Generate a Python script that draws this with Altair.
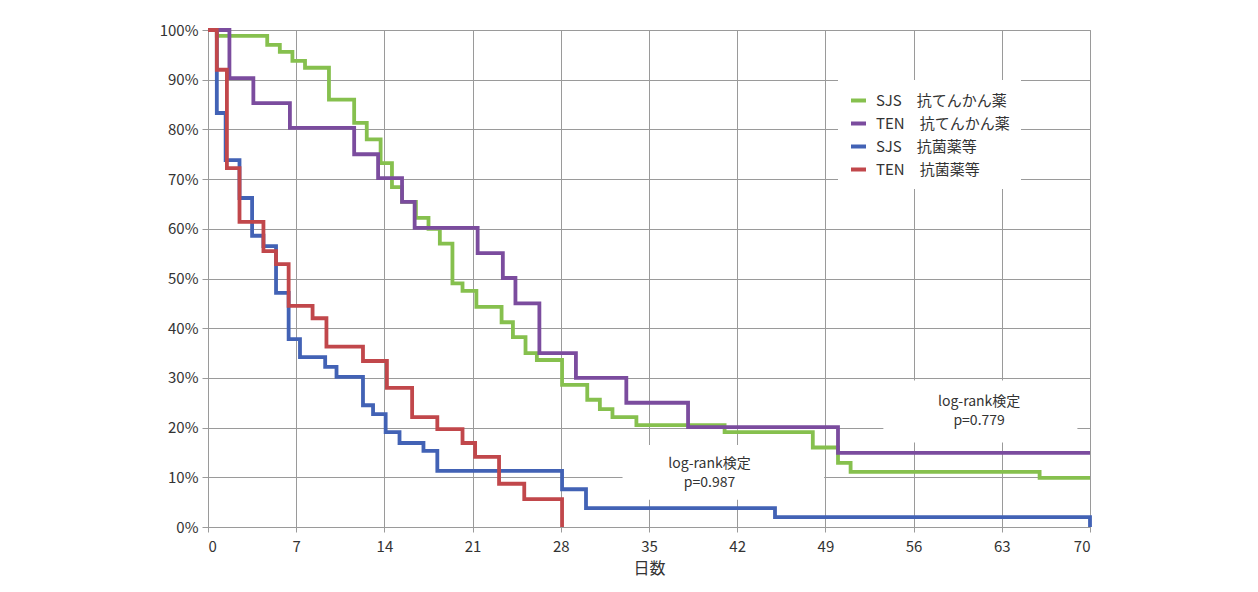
import altair as alt
import pandas as pd

# ---- data ----
series_names = ["SJS\u3000抗てんかん薬", "TEN\u3000抗てんかん薬", "SJS\u3000抗菌薬等", "TEN\u3000抗菌薬等"]
series_colors = ["#86c04e", "#7b4c9e", "#4262b5", "#c1474b"]

green_days = [0, 0.7, 4.7, 5.7, 6.7, 7.7, 9.6, 11.6, 12.6, 13.7, 14.6, 15.4, 16.5, 17.5, 18.4, 19.4,
              20.2, 21.3, 23.3, 24.2, 25.2, 26.1, 28.1, 30.1, 31.1, 32.1, 34.0, 41.0, 48.0, 50.0, 51.0,
              66.0, 70]
green_vals = [100, 98.8, 97, 95.6, 93.8, 92.4, 86, 81.3, 78, 73.2, 68.4, 65.4, 62.2, 60, 57, 49,
              47.5, 44.3, 41.2, 38.2, 35, 33.6, 28.6, 25.6, 23.7, 22.1, 20.5, 19.1, 16, 12.9, 11.1,
              9.9, 9.9]

purple_days = [0, 1.7, 3.6, 6.5, 11.6, 13.5, 15.4, 16.4, 21.4, 23.4, 24.4, 26.3, 29.2, 33.2, 38.1, 50.0, 70]
purple_vals = [100, 90.3, 85.3, 80.3, 75, 70.2, 65.4, 60.2, 55.1, 50.1, 45, 35, 30, 25, 20.1, 14.9, 14.9]

blue_days = [0, 0.7, 1.4, 2.5, 3.5, 4.4, 5.4, 6.4, 7.3, 9.3, 10.2, 12.3, 13.1, 14.1, 15.2, 17.1, 18.2,
             28.1, 30.0, 45.0, 70, 70]
blue_vals = [100, 83.3, 73.8, 66.2, 58.6, 56.5, 47.1, 37.8, 34.2, 32.2, 30.2, 24.5, 22.7, 19.1, 16.9,
             15.3, 11.3, 7.6, 3.8, 2.0, 2.0, 0]

red_days = [0, 0.7, 1.5, 2.5, 4.4, 5.4, 6.4, 8.3, 9.4, 12.3, 14.2, 16.2, 18.2, 20.2, 21.2, 23.1, 25.1, 28.1]
red_vals = [100, 92, 72.2, 61.4, 55.5, 52.9, 44.5, 42, 36.3, 33.4, 28, 22.1, 19.7, 16.9, 14.1, 8.7, 5.6, 0]

x_ticks = [0, 7, 14, 21, 28, 35, 42, 49, 56, 63, 70]
y_ticks = [0, 10, 20, 30, 40, 50, 60, 70, 80, 90, 100]

# annotation lines (each line a separate text)
note_texts = ["log-rank検定", "p=0.987", "log-rank検定", "p=0.779"]
note_x = [39.8, 39.8, 61.2, 61.2]
note_y = [12.7, 8.8, 25.2, 21.3]
box_x1 = [32.9, 53.6]
box_x2 = [48.9, 69.0]
box_y1 = [5.5, 17.0]
box_y2 = [16.5, 29.5]

FONT = "Noto Sans CJK JP"

rows = []
for name, days, vals in zip(series_names,
                            [green_days, purple_days, blue_days, red_days],
                            [green_vals, purple_vals, blue_vals, red_vals]):
    for i, (d, v) in enumerate(zip(days, vals)):
        rows.append({"series": name, "day": d, "surv": v, "idx": i})
df = pd.DataFrame(rows)

notes = pd.DataFrame({"text": note_texts, "x": note_x, "y": note_y})
boxes_df = pd.DataFrame({"x1": box_x1, "x2": box_x2, "y1": box_y1, "y2": box_y2})

xscale = alt.Scale(domain=[0, 70], nice=False, zero=False)
yscale = alt.Scale(domain=[0, 100], nice=False)

xaxis = alt.Axis(values=x_ticks, title="日数", grid=True, labelFontSize=15, titleFontSize=16,
                 labelPadding=7, titlePadding=6, tickSize=5, labelFont=FONT, titleFont=FONT,
                 titleFontWeight="normal", labelColor="#333", titleColor="#333")
yaxis = alt.Axis(values=y_ticks, title=None, grid=True, labelFontSize=15, labelPadding=4,
                 tickSize=6, labelExpr="datum.value + '%'", labelFont=FONT, labelColor="#333")

boxes = alt.Chart(boxes_df).mark_rect(fill="white").encode(
    x=alt.X("x1:Q", scale=xscale, axis=xaxis),
    x2="x2:Q",
    y=alt.Y("y1:Q", scale=yscale, axis=yaxis),
    y2="y2:Q",
)

lines = alt.Chart(df).mark_line(interpolate="step-after", strokeWidth=3.8).encode(
    x=alt.X("day:Q", scale=xscale, axis=xaxis),
    y=alt.Y("surv:Q", scale=yscale, axis=yaxis),
    color=alt.Color("series:N",
                    scale=alt.Scale(domain=series_names, range=series_colors),
                    legend=alt.Legend(title=None, orient="none", legendX=630, legendY=50,
                                      fillColor="white", padding=11, symbolType="stroke",
                                      symbolSize=225, symbolStrokeWidth=4, labelFontSize=15,
                                      labelFont=FONT, labelColor="#333", rowPadding=5,
                                      labelOffset=8)),
    detail="series:N",
    order="idx:Q",
)

texts = alt.Chart(notes).mark_text(fontSize=14, font=FONT, align="center",
                                   baseline="middle", color="#333").encode(
    x=alt.X("x:Q", scale=xscale),
    y=alt.Y("y:Q", scale=yscale),
    text="text:N",
)

chart = alt.layer(boxes, lines, texts).properties(
    width=882, height=497,
    autosize=alt.AutoSizeParams(type="none"),
    padding={"left": 200, "top": 22, "right": 20, "bottom": 55},
    background="white",
).configure_axis(
    gridColor="#9a9a9a", gridWidth=1, domainColor="#9a9a9a", tickColor="#9a9a9a"
).configure_view(stroke="#9a9a9a")

chart.save("out.html", embed_options={"renderer": "svg", "actions": False})
